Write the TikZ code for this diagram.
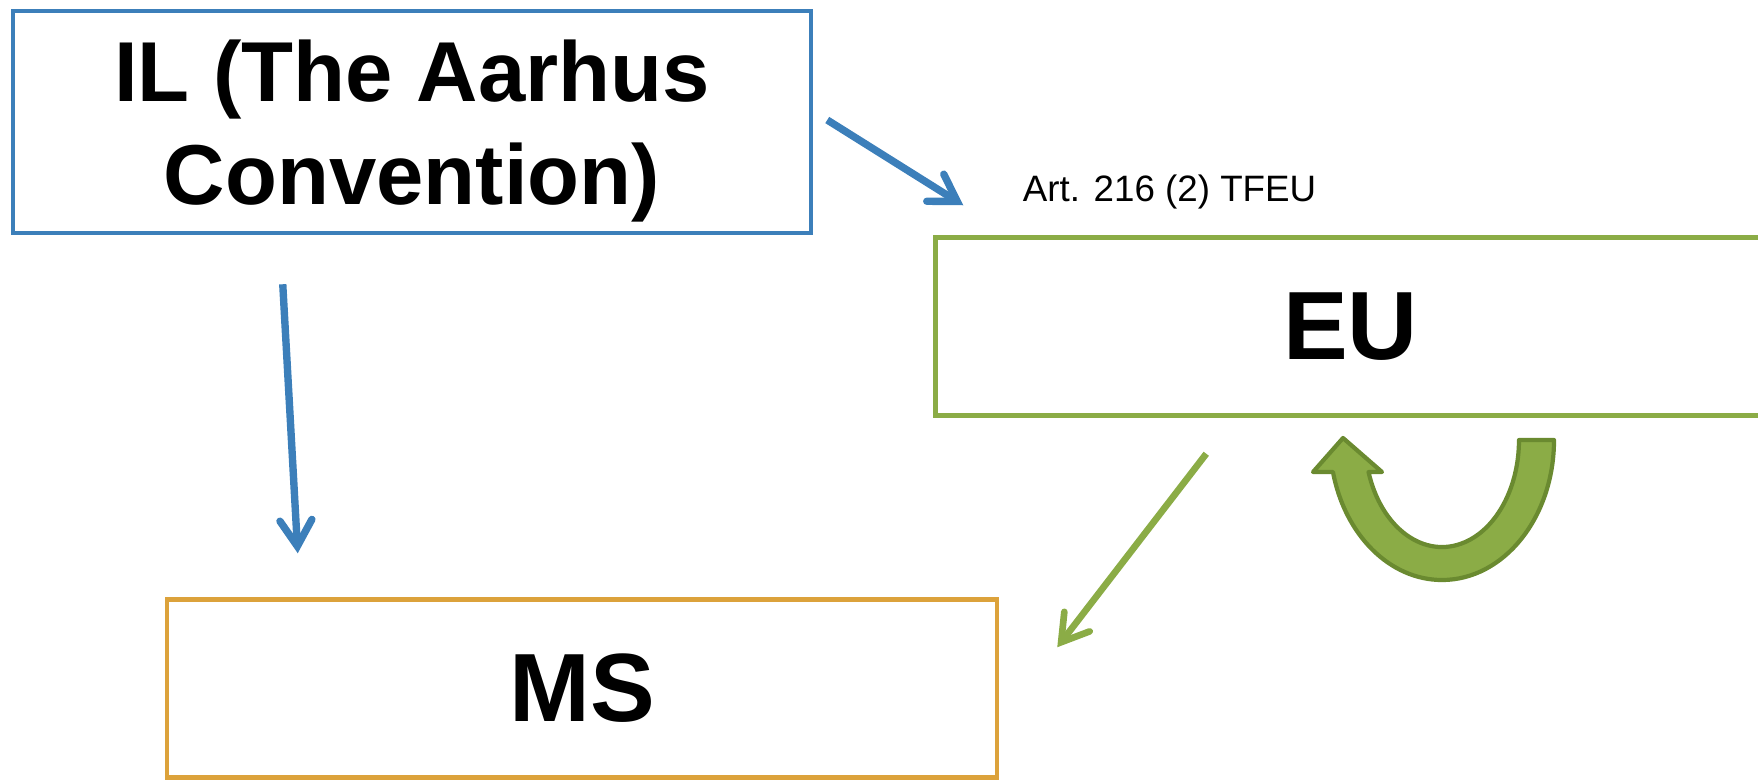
\documentclass[tikz,border=0pt]{standalone}
\usepackage{fontspec}
\setmainfont{Liberation Sans}
\usepackage{xcolor}
\usetikzlibrary{arrows.meta, positioning}

\definecolor{ilblue}{HTML}{3C7FBA}
\definecolor{eugreen}{HTML}{8BAC46}
\definecolor{msorange}{HTML}{DCA23B}
\definecolor{loopedge}{HTML}{6A8A30}

\begin{document}
\begin{tikzpicture}[every node/.style={font=\bfseries\fontsize{27.6pt}{33pt}\selectfont},
  box/.style={draw, rectangle, line width=1.28pt, minimum width=8.3cm, minimum height=1.78cm},
  link/.style={line width=2.1pt, -{Straight Barb[length=0.26cm, width=0.32cm, line cap=round]}}]
\useasboundingbox (0,0) rectangle (17.58,-7.79);
\node (il) [box, draw=ilblue, minimum width=7.98cm, minimum height=2.22cm, align=center, text depth=0pt, font=\bfseries\fontsize{24.2pt}{29.4pt}\selectfont] at (4.12,-1.22) {IL (The Aarhus\\Convention)};
\node (eu) [box, draw=eugreen, below right=0cm and 1.2cm of il] {EU};
\node (ms) [box, draw=msorange, below right=3.62cm and 1.54cm of il.south west] {MS};
\node (art) [above right=0.25cm and 0.89cm of eu.north west, inner sep=0pt, font=\fontsize{10.45pt}{12pt}\selectfont] {Art. 216 (2) TFEU};
\draw[link, ilblue] ([xshift=0.14cm, yshift=0.02cm]il.east) -- ([xshift=0.3cm, yshift=0.3cm]eu.north west);
\draw[link, ilblue] ([xshift=2.72cm, yshift=-0.49cm]il.south west) -- ([xshift=1.33cm, yshift=0.44cm]ms.north west);
\draw[link, eugreen, line width=1.9pt] ([xshift=2.73cm, yshift=-0.36cm]eu.south west) -- ([xshift=0.58cm, yshift=-0.5cm]ms.north east);
% loop arrow under EU
\draw[loopedge, fill=eugreen, line width=1.2pt, line join=round] (15.54,-4.40) arc[start angle=0, end angle=-166.8, x radius=1.12cm, y radius=1.40cm] -- (13.13,-4.72) -- (13.43,-4.38) -- (13.82,-4.72) -- (13.685,-4.72) arc[start angle=-162.6, end angle=0, x radius=0.77cm, y radius=1.07cm] -- cycle;
\end{tikzpicture}
\end{document}
